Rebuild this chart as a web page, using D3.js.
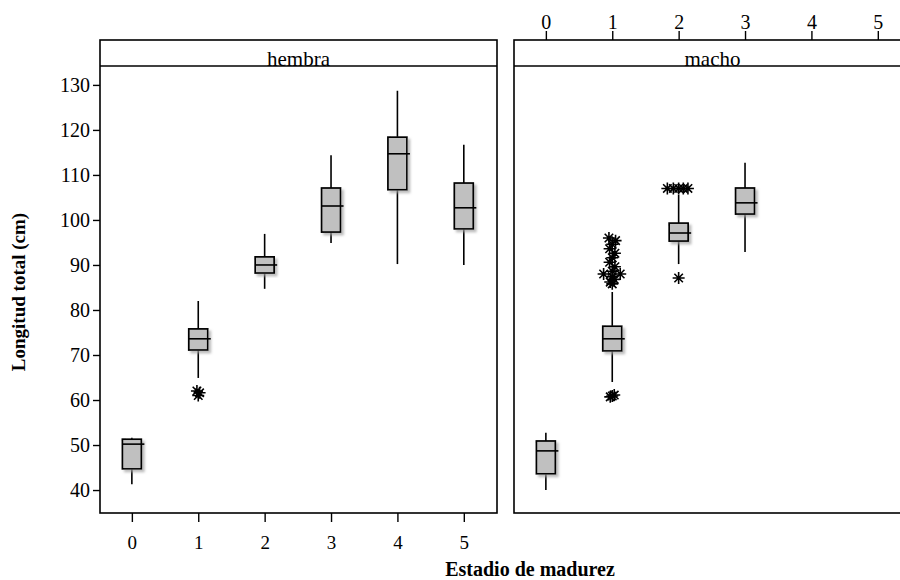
<!DOCTYPE html>
<html><head><meta charset="utf-8">
<script src="https://cdn.jsdelivr.net/npm/d3@7"></script>
<style>body{margin:0;background:#fff}text{font-family:"Liberation Serif","Times New Roman",serif;fill:#000}</style>
</head><body>
<svg id="c" width="900" height="580"></svg>
<script>
// ---- data ----
const stageTicks = [0, 1, 2, 3, 4, 5];
const yTicks = [40, 50, 60, 70, 80, 90, 100, 110, 120, 130];

const hembraStages = [0, 1, 2, 3, 4, 5];
const hembraLow    = [41.3, 64.9, 84.7, 94.9, 90.2, 90.0];
const hembraQ1     = [44.7, 71.1, 88.2, 97.3, 106.7, 98.0];
const hembraMedian = [50.2, 73.6, 90.0, 103.1, 114.7, 102.7];
const hembraQ3     = [51.3, 75.8, 91.8, 107.1, 118.4, 108.2];
const hembraHigh   = [51.6, 82.0, 96.9, 114.4, 128.7, 116.7];
const hembraOutStage  = [1, 1, 1];
const hembraOutValue  = [61.0, 61.6, 62.0];
const hembraOutJitter = [0, 0.02, -0.02];

const machoStages = [0, 1, 2, 3];
const machoLow    = [40.0, 64.0, 90.2, 92.9];
const machoQ1     = [43.6, 70.9, 95.3, 101.3];
const machoMedian = [48.7, 73.6, 97.1, 103.8];
const machoQ3     = [50.9, 76.4, 99.3, 107.1];
const machoHigh   = [52.7, 84.0, 105.6, 112.7];
const machoOutStage  = [1, 1, 1, 1, 1, 1, 1, 1, 1, 1, 1, 1, 1, 1, 1, 1, 1, 1, 2, 2, 2, 2, 2, 2];
const machoOutValue  = [60.7, 61.1, 60.9, 96.0, 95.4, 94.6, 93.6, 92.6, 91.6, 90.6, 89.6, 88.6, 88.0, 88.0, 87.4, 86.8, 86.2, 85.8, 107.0, 107.0, 107.0, 107.0, 107.0, 87.1];
const machoOutJitter = [-0.03, 0.03, 0.0, -0.05, 0.05, 0.0, -0.04, 0.04, 0.0, -0.04, 0.04, 0.0, -0.13, 0.12, 0.0, 0.03, -0.03, 0.0, -0.17, -0.08, 0.0, 0.07, 0.14, 0.0];

// ---- layout ----
const svg = d3.select("#c");
const panelW = 397, panelTop = 40, stripH = 26, panelBottom = 513;
const y = d3.scaleLinear().domain([34.9, 134.2]).range([panelBottom, panelTop + stripH]);

const defs = svg.append("defs");
const f = defs.append("filter").attr("id", "sh").attr("x", "-30%").attr("y", "-30%").attr("width", "160%").attr("height", "160%");
f.append("feDropShadow").attr("dx", 2.5).attr("dy", 2.5).attr("stdDeviation", 0.8)
  .attr("flood-color", "#a0a0a0").attr("flood-opacity", 0.7);

function star(g, cx, cy) {
  const r = 6;
  let d = "";
  [0, 45, 90, 135].forEach(a => {
    const rad = a * Math.PI / 180;
    const dx = r * Math.cos(rad), dy = r * Math.sin(rad);
    d += `M${cx - dx},${cy - dy}L${cx + dx},${cy + dy}`;
  });
  g.append("path").attr("d", d).attr("stroke", "#000").attr("stroke-width", 1.6).attr("fill", "none");
}

function panel(x0, name, st, lo, q1, med, q3, hi, oS, oV, oJ) {
  const x = d3.scaleLinear().domain([-0.48, 5.5]).range([x0, x0 + panelW]);
  const g = svg.append("g");
  g.append("rect").attr("x", x0).attr("y", panelTop).attr("width", panelW).attr("height", panelBottom - panelTop)
    .attr("fill", "none").attr("stroke", "#000").attr("stroke-width", 1.6);
  g.append("line").attr("x1", x0).attr("x2", x0 + panelW).attr("y1", panelTop + stripH).attr("y2", panelTop + stripH)
    .attr("stroke", "#000").attr("stroke-width", 1.4);
  g.append("text").attr("x", x0 + panelW / 2).attr("y", panelTop + stripH).attr("text-anchor", "middle")
    .attr("font-size", 21).text(name);
  const bw = 19;
  st.forEach((s, i) => {
    const cx = x(s);
    g.append("line").attr("x1", cx).attr("x2", cx).attr("y1", y(hi[i])).attr("y2", y(lo[i]))
      .attr("stroke", "#000").attr("stroke-width", 1.6);
    g.append("rect").attr("x", cx - bw / 2).attr("y", y(q3[i])).attr("width", bw).attr("height", y(q1[i]) - y(q3[i]))
      .attr("fill", "#c0c0c0").attr("stroke", "#000").attr("stroke-width", 1.7).attr("filter", "url(#sh)");
    g.append("line").attr("x1", cx - bw / 2).attr("x2", cx + bw / 2 + 3).attr("y1", y(med[i])).attr("y2", y(med[i]))
      .attr("stroke", "#000").attr("stroke-width", 1.6);
  });
  oS.forEach((s, i) => star(g, x(s + oJ[i]), y(oV[i])));
  return x;
}

const xL = panel(100, "hembra", hembraStages, hembraLow, hembraQ1, hembraMedian, hembraQ3, hembraHigh,
  hembraOutStage, hembraOutValue, hembraOutJitter);
const xR = panel(514, "macho", machoStages, machoLow, machoQ1, machoMedian, machoQ3, machoHigh,
  machoOutStage, machoOutValue, machoOutJitter);

// y axis
const ya = svg.append("g").attr("transform", "translate(100,0)")
  .call(d3.axisLeft(y).tickValues(yTicks).tickSize(7).tickPadding(3));
ya.select(".domain").remove();
ya.selectAll("line").attr("stroke", "#000").attr("stroke-width", 1.4);
ya.selectAll("text").attr("font-size", 20);

// bottom axis (left panel)
const xb = svg.append("g").attr("transform", `translate(0,${panelBottom})`)
  .call(d3.axisBottom(xL).tickValues(stageTicks).tickFormat(d3.format("d")).tickSize(9).tickPadding(14));
xb.select(".domain").remove();
xb.selectAll("line").attr("stroke", "#000").attr("stroke-width", 1.4);
xb.selectAll("text").attr("font-size", 19);

// top axis (right panel)
const xt = svg.append("g").attr("transform", `translate(0,${panelTop})`)
  .call(d3.axisTop(xR).tickValues(stageTicks).tickFormat(d3.format("d")).tickSize(9).tickPadding(2));
xt.select(".domain").remove();
xt.selectAll("line").attr("stroke", "#000").attr("stroke-width", 1.4);
xt.selectAll("text").attr("font-size", 20);

// axis titles
svg.append("text").attr("x", 530).attr("y", 576).attr("text-anchor", "middle")
  .attr("font-size", 20).attr("font-weight", "bold").text("Estadio de madurez");
svg.append("text").attr("transform", "translate(25,292) rotate(-90)").attr("text-anchor", "middle")
  .attr("font-size", 19).attr("font-weight", "bold").text("Longitud total (cm)");
</script>
</body></html>
